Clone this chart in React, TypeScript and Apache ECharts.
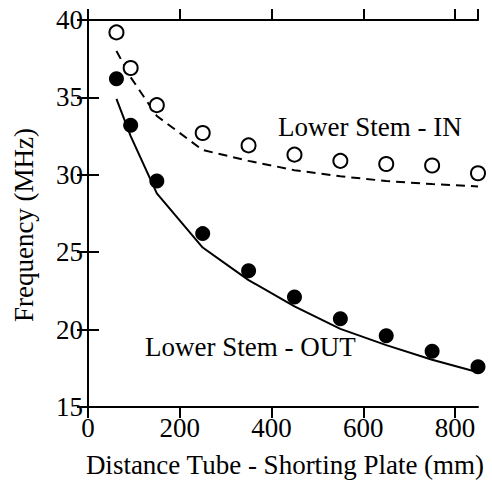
import React, { useEffect, useRef } from "react";
import * as echarts from "echarts";

const distance = [62, 93, 150, 250, 350, 450, 550, 650, 750, 850];
const inMeasured = [39.2, 36.9, 34.5, 32.7, 31.9, 31.3, 30.9, 30.7, 30.6, 30.1];
const outMeasured = [36.2, 33.2, 29.6, 26.2, 23.8, 22.1, 20.7, 19.6, 18.6, 17.6];
const inCalc = [38.0, 36.3, 33.8, 31.6, 30.9, 30.3, 29.9, 29.6, 29.4, 29.25];
const outCalc = [34.9, 32.5, 28.8, 25.3, 23.2, 21.5, 20.05, 19.0, 18.05, 17.25];
const xTitle = "Distance Tube - Shorting Plate (mm)";
const yTitle = "Frequency (MHz)";
const labelIn = "Lower Stem - IN";
const labelOut = "Lower Stem - OUT";

const FONT = "Liberation Serif";
const FS = 27;

export default function App() {
  const ref = useRef<HTMLDivElement>(null);
  useEffect(() => {
    if (!ref.current) return;
    let disposed = false;
    const chart = echarts.init(ref.current, null, { renderer: "svg" });
    const pair = (xs: number[], ys: number[]) => xs.map((x, i) => [x, ys[i]]);
    const axisLine = { show: true, lineStyle: { color: "#000", width: 2 } };
    const axisTick = { show: true, inside: false, length: 11, lineStyle: { color: "#000", width: 2 } };
    const labelStyle = { color: "#000", fontFamily: FONT, fontSize: FS };
    const textStyle = (text: string, extra: object = {}) => ({
      text, fill: "#000", fontFamily: FONT, fontSize: FS, ...extra,
    });
    const option = {
      animation: false,
      grid: { left: 88, top: 20, right: 14, bottom: 75, containLabel: false },
      xAxis: [
        {
          type: "value", min: 0, max: 850, interval: 200, position: "bottom",
          axisLine, axisTick, splitLine: { show: false },
          axisLabel: { ...labelStyle, margin: 7, showMaxLabel: false },
        },
        {
          type: "value", min: 0, max: 850, interval: 200, position: "top",
          axisLine, axisTick, splitLine: { show: false }, axisLabel: { show: false },
        },
      ],
      yAxis: [
        {
          type: "value", min: 15, max: 40, interval: 5, position: "left",
          axisLine, axisTick, splitLine: { show: false },
          axisLabel: { ...labelStyle, margin: 5 },
        },
        {
          type: "value", min: 15, max: 40, interval: 5, position: "right", z: 10,
          axisLine, axisTick, splitLine: { show: false }, axisLabel: { show: false },
        },
      ],
      series: [
        {
          type: "line", data: pair(distance, inCalc), symbol: "none",
          lineStyle: { color: "#000", width: 2, type: [9, 6] }, z: 2,
        },
        {
          type: "line", data: pair(distance, outCalc), symbol: "none",
          lineStyle: { color: "#000", width: 2 }, z: 2,
        },
        {
          type: "scatter", data: pair(distance, inMeasured), symbol: "circle", symbolSize: 14,
          itemStyle: { color: "#fff", borderColor: "#000", borderWidth: 2, opacity: 1 }, z: 3,
        },
        {
          type: "scatter", data: pair(distance, outMeasured), symbol: "circle", symbolSize: 15,
          itemStyle: { color: "#000", opacity: 1 }, z: 3,
        },
      ],
      graphic: [
        { type: "text", left: 278, top: 113, style: textStyle(labelIn) },
        { type: "text", left: 145, top: 333, style: textStyle(labelOut) },
        {
          type: "text", x: 24, y: 225, rotation: Math.PI / 2,
          style: textStyle(yTitle, { align: "center", verticalAlign: "middle" }),
        },
      ],
    };
    const render = () => {
      if (!disposed) chart.setOption(option as any, true);
    };
    render();
    const fonts = (document as any).fonts;
    if (fonts && fonts.load) {
      fonts.load(`${FS}px "${FONT}"`).then(render).catch(() => {});
      fonts.ready.then(render).catch(() => {});
    }
    return () => {
      disposed = true;
      chart.dispose();
    };
  }, []);
  return (
    <>
      <div ref={ref} style={{ width: 492, height: 482, position: "absolute", left: 0, top: 0, background: "#fff" }} />
      <div
        style={{
          position: "absolute", left: 0, top: 452, width: 570, textAlign: "center",
          fontFamily: FONT, fontSize: FS, lineHeight: `${FS}px`, color: "#000", whiteSpace: "nowrap",
        }}
      >
        {xTitle}
      </div>
    </>
  );
}
